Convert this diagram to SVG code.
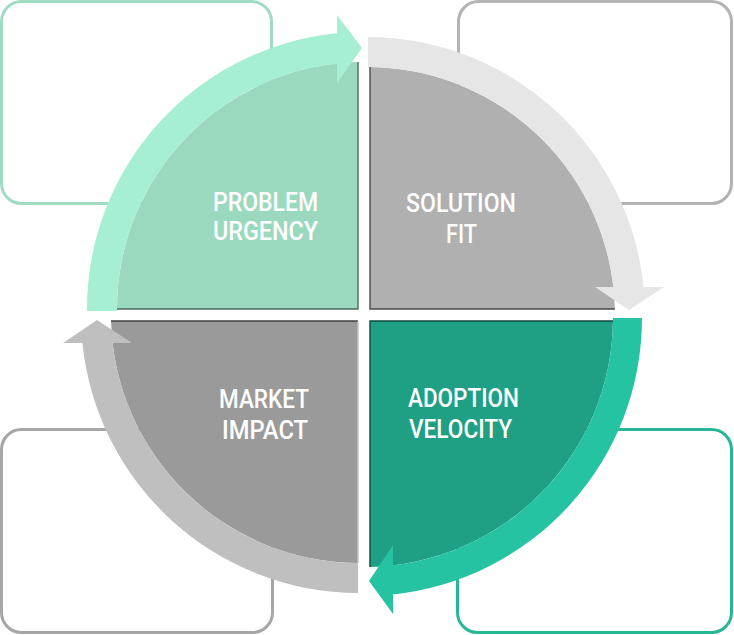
<svg xmlns="http://www.w3.org/2000/svg" width="734" height="635" viewBox="0 0 734 635">
<style>
.box{fill:#ffffff;stroke-width:3}
.lbl{font-family:Roboto,"Liberation Sans",sans-serif;font-weight:500;font-size:25px;fill:#ffffff;text-anchor:middle}
.edge{fill:none;stroke-width:1.4}
</style>
<rect width="734" height="635" fill="#ffffff"/>
<g id="box-tl"><rect class="box" x="1.5" y="1.5" width="270" height="202" rx="20" stroke="#9fdcc3"/></g>
<g id="box-tr"><rect class="box" x="458.5" y="1.5" width="273" height="202" rx="20" stroke="#b3b3b3"/></g>
<g id="box-bl"><rect class="box" x="1.5" y="429.5" width="271" height="203" rx="20" stroke="#a6a6a6"/></g>
<g id="box-br"><rect class="box" x="457.5" y="429.5" width="274" height="203" rx="20" stroke="#26b896"/></g>

<g id="problem-urgency">
<path d="M358,309 L117,309 A247,247 0 0 1 358,62.1 Z" fill="#9bd9bf"/>
<path class="edge" d="M358,62 L358,309 L117,309" stroke="#4f6a5e"/>
<text class="lbl" x="265.5" y="211" textLength="105" lengthAdjust="spacingAndGlyphs">PROBLEM</text>
<text class="lbl" x="265.5" y="240" textLength="105" lengthAdjust="spacingAndGlyphs">URGENCY</text>
</g>
<g id="solution-fit">
<path d="M370,309 L370,67 A248,248 0 0 1 614.9,309 Z" fill="#b0b0b0"/>
<path class="edge" d="M370,67 L370,309 L614.9,309" stroke="#4a4a4a"/>
<text class="lbl" x="461" y="212" textLength="110" lengthAdjust="spacingAndGlyphs">SOLUTION</text>
<text class="lbl" x="461.5" y="243" textLength="31" lengthAdjust="spacingAndGlyphs">FIT</text>
</g>
<g id="adoption-velocity">
<path d="M370,321 L613,321 A249,249 0 0 1 370,566.9 Z" fill="#1f9f83"/>
<path class="edge" d="M613,321 L370,321 L370,566.9" stroke="#0f4a3d"/>
<text class="lbl" x="463.5" y="407" textLength="111" lengthAdjust="spacingAndGlyphs">ADOPTION</text>
<text class="lbl" x="460.5" y="438" textLength="103" lengthAdjust="spacingAndGlyphs">VELOCITY</text>
</g>
<g id="market-impact">
<path d="M358,321 L358,563 A248,248 0 0 1 111.1,321 Z" fill="#9a9a9a"/>
<path class="edge" d="M111,321 L358,321" stroke="#3f3f3f"/>
<path class="edge" d="M358,321 L358,563" stroke="#c4c4c4"/>
<text class="lbl" x="264" y="408" textLength="90" lengthAdjust="spacingAndGlyphs">MARKET</text>
<text class="lbl" x="265" y="439" textLength="86" lengthAdjust="spacingAndGlyphs">IMPACT</text>
</g>

<g id="connectors">
<path d="M87,311 A277,277 0 0 1 337,33.3 L337,15 L362,48 L337,83 L337,63.5 A247,247 0 0 0 117,311 Z" fill="#a6efd2"/>
<path d="M368,37 A278,278 0 0 1 643.6,287 L664,287 L629,310 L595,287 L613.4,287 A248,248 0 0 0 368,67 Z" fill="#e6e6e6"/>
<path d="M642,318 A278,278 0 0 1 393,594.5 L393,614 L369,581 L393,545 L393,565.3 A249,249 0 0 0 613,318 Z" fill="#26c3a2"/>
<path d="M358,593 A278,278 0 0 1 82.4,343 L63,343 L97,320 L132,343 L112.6,343 A248,248 0 0 0 358,563 Z" fill="#bfbfbf"/>
</g>
</svg>
